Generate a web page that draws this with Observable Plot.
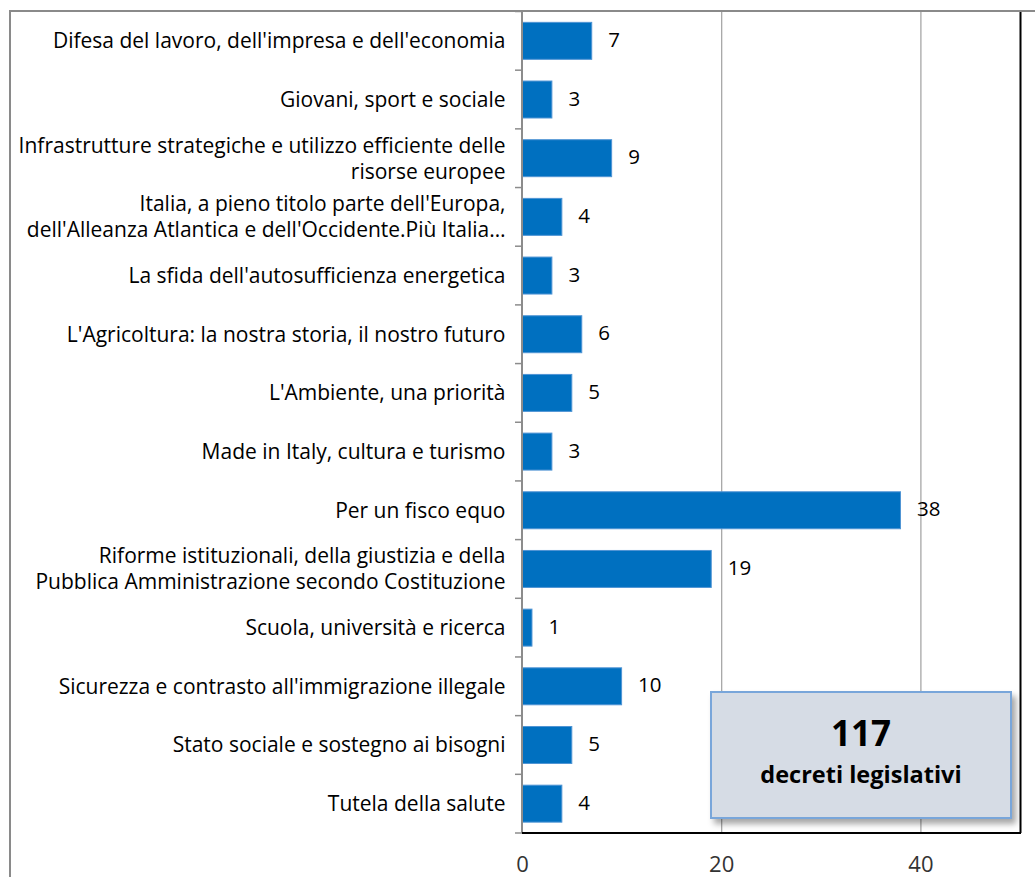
<!DOCTYPE html>
<html>
<head>
<meta charset="utf-8">
<script src="https://cdn.jsdelivr.net/npm/d3@7"></script>
<script src="https://cdn.jsdelivr.net/npm/@observablehq/plot@0.6"></script>
<style>
  html, body { margin: 0; padding: 0; background: #fff; }
  #wrap { position: relative; width: 1035px; height: 877px; overflow: hidden; }
  #frame { position: absolute; left: 9px; top: 10px; width: 1100px; height: 1000px; border: 2px solid #8a8a8a; box-sizing: border-box; pointer-events: none; }
  #box { position: absolute; left: 710px; top: 691px; width: 302px; height: 128px; box-sizing: border-box;
         background: #d6dce5; border: 2px solid #79a6da; box-shadow: 4px 5px 6px rgba(0,0,0,0.35);
         font-family: "Open Sans", sans-serif; font-weight: bold; color: #000; text-align: center; }
  #box .big { font-size: 35px; line-height: 36px; margin-top: 22px; }
  #box .small { font-size: 23.5px; line-height: 28px; margin-top: 9px; }
  #chart { position: absolute; left: 0; top: 0; }
</style>
</head>
<body>
<div id="wrap">
  <div id="chart"></div>
  <div id="frame"></div>
  <div id="box"><div class="big">117</div><div class="small">decreti legislativi</div></div>
</div>
<script>
const categories = [
  "Difesa del lavoro, dell'impresa e dell'economia",
  "Giovani, sport e sociale",
  "Infrastrutture strategiche e utilizzo efficiente delle\nrisorse europee",
  "Italia, a pieno titolo parte dell'Europa,\ndell'Alleanza Atlantica e dell'Occidente.Più Italia…",
  "La sfida dell'autosufficienza energetica",
  "L'Agricoltura: la nostra storia, il nostro futuro",
  "L'Ambiente, una priorità",
  "Made in Italy, cultura e turismo",
  "Per un fisco equo",
  "Riforme istituzionali, della giustizia e della\nPubblica Amministrazione secondo Costituzione",
  "Scuola, università e ricerca",
  "Sicurezza e contrasto all'immigrazione illegale",
  "Stato sociale e sostegno ai bisogni",
  "Tutela della salute"
];
const values = [7, 3, 9, 4, 3, 6, 5, 3, 38, 19, 1, 10, 5, 4];
const xTicks = [0, 20, 40];
const gridValues = [20, 40];

const data = categories.map((c, i) => ({category: c, value: values[i]}));

function axisLines(index, scales, values, dimensions) {
  const {width, height, marginLeft, marginRight, marginTop, marginBottom} = dimensions;
  const y = scales.y;
  const g = d3.create("svg:g");
  const x0 = marginLeft, top = marginTop, bottom = height - marginBottom, right = width - marginRight;
  const step = y.step ? y.step() : (bottom - top) / categories.length;
  const bw = y.bandwidth ? y.bandwidth() : 0;
  const bounds = [];
  categories.forEach(c => bounds.push(y(c) + bw / 2 - step / 2));
  bounds.push(bottom);
  g.selectAll("line.tick").data(bounds).join("line")
    .attr("x1", x0 - 7).attr("x2", x0).attr("y1", d => d).attr("y2", d => d)
    .attr("stroke", "#8c8c8c").attr("stroke-width", 1.5);
  g.append("line").attr("x1", x0).attr("x2", x0).attr("y1", top).attr("y2", bottom)
    .attr("stroke", "#8c8c8c").attr("stroke-width", 2);
  g.append("line").attr("x1", x0).attr("x2", right + 1).attr("y1", bottom).attr("y2", bottom)
    .attr("stroke", "#000").attr("stroke-width", 2);
  return g.node();
}

const chart = Plot.plot({
  width: 1035,
  height: 877,
  marginLeft: 522,
  marginRight: 15,
  marginTop: 11.5,
  marginBottom: 44,
  style: {fontFamily: "'Open Sans', sans-serif", fontSize: "21px", color: "#000", background: "transparent"},
  x: {domain: [0, 50]},
  y: {domain: categories, paddingInner: 0.37, paddingOuter: 0.185, round: false},
  marks: [
    Plot.ruleX(gridValues, {stroke: "#a0a0a0", strokeWidth: 1.2, strokeOpacity: 1}),
    Plot.ruleX([50], {stroke: "#000", strokeWidth: 2}),
    Plot.barX(data, {x: "value", y: "category", fill: "#0070c0", stroke: "#4f94d4", strokeWidth: 1}),
    Plot.text(data, {x: "value", y: "category", text: d => String(d.value), textAnchor: "start", dx: 16, dy: -1, fontSize: 20.5, fill: "#000"}),
    Plot.text(data, {x: 0, y: "category", text: "category", textAnchor: "end", dx: -17, dy: -1.5, lineHeight: 1.24, fontSize: 21, fill: "#000", ariaLabel: "category-labels"}),
    Plot.axisX(xTicks, {anchor: "bottom", tickSize: 0, tickPadding: 23, fontSize: 22, fill: "#333", label: null}),
    Plot.axisY({ticks: [], tickSize: 0, label: null}),
    axisLines
  ]
});

document.getElementById("chart").appendChild(chart);

// center multi-line category labels as a block (right-aligned block, centered lines)
chart.querySelectorAll('g[aria-label="category-labels"] text').forEach(t => {
  const spans = t.querySelectorAll("tspan");
  if (spans.length > 1) {
    let w = 0;
    spans.forEach(s => { w = Math.max(w, s.getComputedTextLength()); });
    t.setAttribute("text-anchor", "middle");
    spans.forEach(s => s.setAttribute("x", String(-w / 2)));
  }
});
</script>
</body>
</html>
